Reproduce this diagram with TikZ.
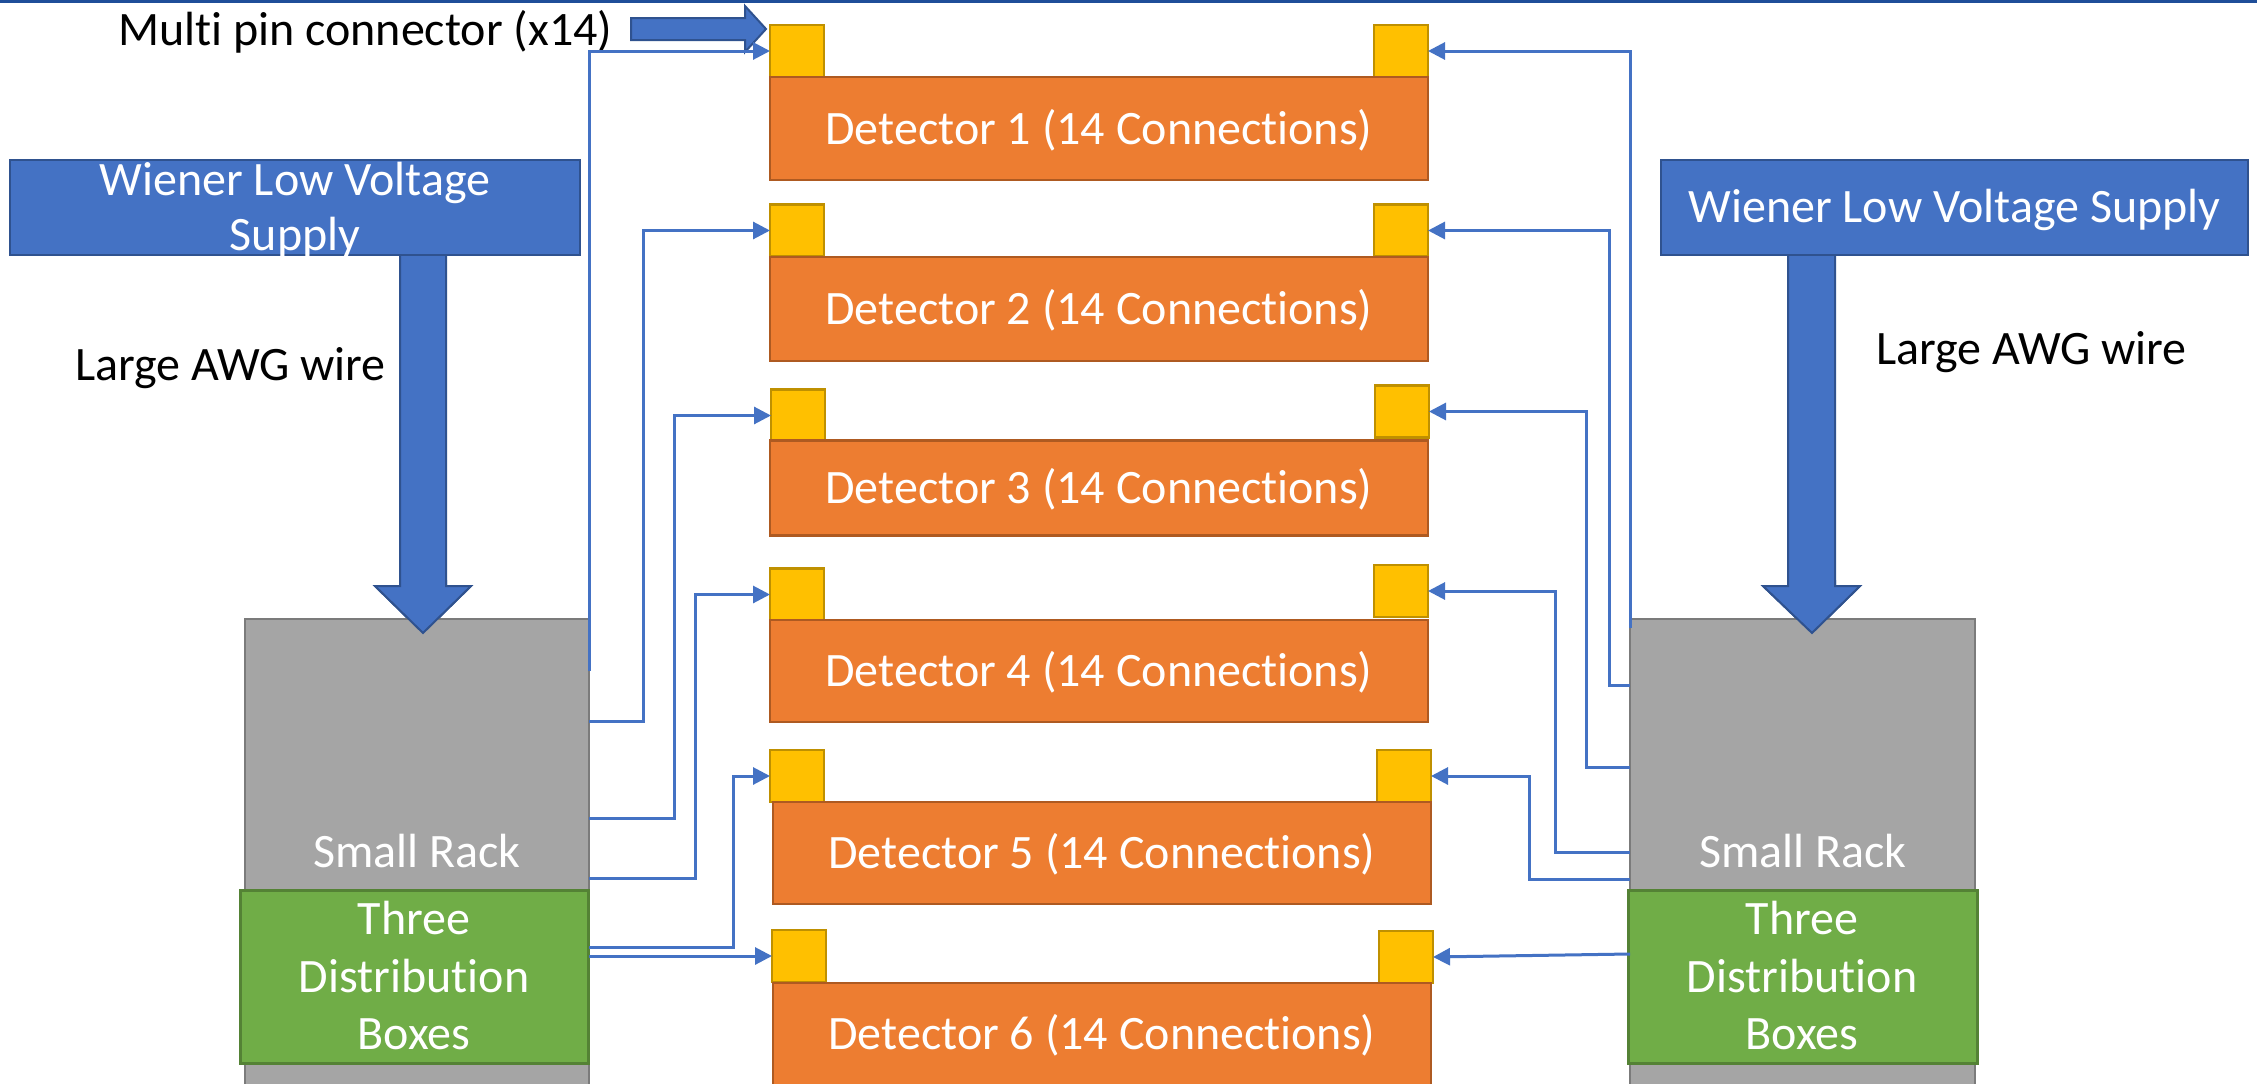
\documentclass[tikz,border=0pt]{standalone}
\usepackage{fontspec}
\setmainfont{Carlito}[Ligatures=NoCommon]
\usetikzlibrary{arrows.meta,calc}
\definecolor{wblue}{HTML}{4472C4}
\definecolor{wblueD}{HTML}{2F528F}
\definecolor{rgray}{HTML}{A5A5A5}
\definecolor{rgrayD}{HTML}{7B7B7B}
\definecolor{dgreen}{HTML}{70AD47}
\definecolor{dgreenD}{HTML}{548235}
\definecolor{dorange}{HTML}{ED7D31}
\definecolor{dorangeD}{HTML}{AE5A21}
\definecolor{cyell}{HTML}{FFC000}
\definecolor{cyellD}{HTML}{BF9000}
\definecolor{topline}{HTML}{1F4E99}
\begin{document}
\begin{tikzpicture}[x=1pt,y=-1pt,
  every node/.style={inner sep=0pt, outer sep=0pt},
  bigfont/.style={font=\fontsize{48}{55}\selectfont},
  supply/.style={rectangle, draw=wblueD, fill=wblue, line width=2.5pt},
  rack/.style={rectangle, draw=rgrayD, fill=rgray, line width=2.5pt},
  distbox/.style={rectangle, draw=dgreenD, fill=dgreen, line width=3pt},
  detbox/.style={rectangle, draw=dorangeD, fill=dorange, line width=2.5pt,
    minimum width=658pt, minimum height=103pt, text=white, bigfont,
    text height=31pt, text depth=0pt},
  pinbox/.style={rectangle, draw=cyellD, fill=cyell, line width=2.5pt,
    minimum width=54pt, minimum height=52pt},
  wire/.style={draw=wblue, line width=3pt, -{Triangle[length=17pt,width=17pt]}},
  whitetxt/.style={text=white, bigfont, anchor=base},
  blacktxt/.style={text=black, bigfont, anchor=base west},
  blockarrow/.style={draw=wblueD, fill=wblue, line width=2pt, line join=miter},
]
\useasboundingbox (0,0) rectangle (2257,1084);
\clip (0,0) rectangle (2257,1084);
\fill[white] (0,0) rectangle (2257,1084);
\draw[topline, line width=3pt] (0,1) -- (2257,1);

% big block arrows (behind supplies)
\draw[blockarrow] (400,250) -- (446,250) -- (446,586) -- (471,586) -- (423,633) -- (375,586) -- (400,586) -- cycle;
\draw[blockarrow] (1788,250) -- (1835,250) -- (1835,586) -- (1860,586) -- (1812,633) -- (1763,586) -- (1788,586) -- cycle;

% supplies
\node[supply, minimum width=570pt, minimum height=95pt] (wienerL) at (295,207.5) {};
\node[supply, minimum width=587pt, minimum height=95pt] (wienerR) at (1954.5,207.5) {};
\node[whitetxt] (wienerLa) at (295,195) {Wiener Low Voltage};
\node[whitetxt] (wienerLb) at (295,250) {Supply};
\node[whitetxt] (wienerRa) at (1954.5,222) {Wiener Low Voltage Supply};

% racks
\node[rack, minimum width=344pt, minimum height=481pt] (rackL) at (417,859.5) {};
\node[rack, minimum width=345pt, minimum height=481pt] (rackR) at (1802.5,859.5) {};
% redraw arrow heads over rack tops
\draw[blockarrow] (400,580) -- (400,586) -- (375,586) -- (423,633) -- (471,586) -- (446,586) -- (446,580);
\fill[wblue] (402,578) rectangle (444,590);
\draw[blockarrow] (1788,580) -- (1788,586) -- (1763,586) -- (1812,633) -- (1860,586) -- (1835,586) -- (1835,580);
\fill[wblue] (1790,578) rectangle (1833,590);

\node[whitetxt] (rackLt) at (417,867) {Small Rack};
\node[whitetxt] (rackRt) at (1803,867) {Small Rack};

% distribution boxes
\node[distbox, minimum width=348pt, minimum height=173pt] (distL) at (414,976.5) {};
\node[distbox, minimum width=349pt, minimum height=173pt] (distR) at (1802.5,976.5) {};
\node[whitetxt] (distLa) at (414,934) {Three};
\node[whitetxt] (distLb) at (414,992) {Distribution};
\node[whitetxt] (distLc) at (414,1049) {Boxes};
\node[whitetxt] (distRa) at (1802,934) {Three};
\node[whitetxt] (distRb) at (1802,992) {Distribution};
\node[whitetxt] (distRc) at (1802,1049) {Boxes};

% connectors (pins)
\node[pinbox] (cL1) at (797,51) {};
\node[pinbox] (cR1) at (1401,51) {};
\node[pinbox] (cL2) at (797,230.5) {};
\node[pinbox] (cR2) at (1401,230.5) {};
\node[pinbox] (cL3) at (798,415.5) {};
\node[pinbox] (cR3) at (1402,411.5) {};
\node[pinbox] (cL4) at (797,594.5) {};
\node[pinbox] (cR4) at (1401,591) {};
\node[pinbox] (cL5) at (797,776) {};
\node[pinbox] (cR5) at (1404,776) {};
\node[pinbox] (cL6) at (799,956) {};
\node[pinbox] (cR6) at (1406,957) {};

% detectors
\node[detbox] (det1) at (1099,128.5) {Detector 1 (14 Connections)};
\node[detbox, minimum height=104pt] (det2) at (1099,309) {Detector 2 (14 Connections)};
\node[detbox, minimum height=95pt] (det3) at (1099,488) {Detector 3 (14 Connections)};
\node[detbox, minimum height=102pt] (det4) at (1099,671) {Detector 4 (14 Connections)};
\node[detbox, minimum height=102pt] (det5) at (1102,853) {Detector 5 (14 Connections)};
\node[detbox, minimum height=102pt] (det6) at (1102,1034) {Detector 6 (14 Connections)};

% multi pin label and arrow
\node[blacktxt] (mpc) at (118,45) {Multi pin connector (x14)};
\draw[blockarrow] (631,18) -- (745,18) -- (745,6) -- (766,29) -- (745,52) -- (745,40) -- (631,40) -- cycle;

\node[blacktxt] (awgL) at (75,380) {Large AWG wire};
\node[blacktxt] (awgR) at (1876,364) {Large AWG wire};

% wire start coordinates
\coordinate (sL1) at (rackL.east |- 0,671);
\coordinate (sL2) at (rackL.east |- 0,721);
\coordinate (sL3) at (rackL.east |- 0,818);
\coordinate (sL4) at (rackL.east |- 0,878);
\coordinate (sL5) at (rackL.east |- 0,947);
\coordinate (sL6) at (rackL.east |- 0,956);
\coordinate (sR1) at (rackR.west |- 0,628);
\coordinate (sR2) at (rackR.west |- 0,685);
\coordinate (sR3) at (rackR.west |- 0,767);
\coordinate (sR4) at (rackR.west |- 0,852);
\coordinate (sR5) at (rackR.west |- 0,879);
\coordinate (sR6) at (rackR.west |- 0,954);

% wires left
\draw[wire] (sL1) |- (cL1.west);
\draw[wire] (sL2) -| (643,0 |- cL2.west) -- (cL2.west);
\draw[wire] (sL3) -| (674,0 |- cL3.west) -- (cL3.west);
\draw[wire] (sL4) -| (695,0 |- cL4.west) -- (cL4.west);
\draw[wire] (sL5) -| (733,0 |- cL5.west) -- (cL5.west);
\draw[wire] (sL6) -- (cL6.west);
% wires right
\draw[wire] (sR1) |- (cR1.east);
\draw[wire] (sR2) -| (1609,0 |- cR2.east) -- (cR2.east);
\draw[wire] (sR3) -| (1586,0 |- cR3.east) -- (cR3.east);
\draw[wire] (sR4) -| (1555,0 |- cR4.east) -- (cR4.east);
\draw[wire] (sR5) -| (1529,0 |- cR5.east) -- (cR5.east);
\draw[wire] (sR6) -- (cR6.east);
\end{tikzpicture}
\end{document}
